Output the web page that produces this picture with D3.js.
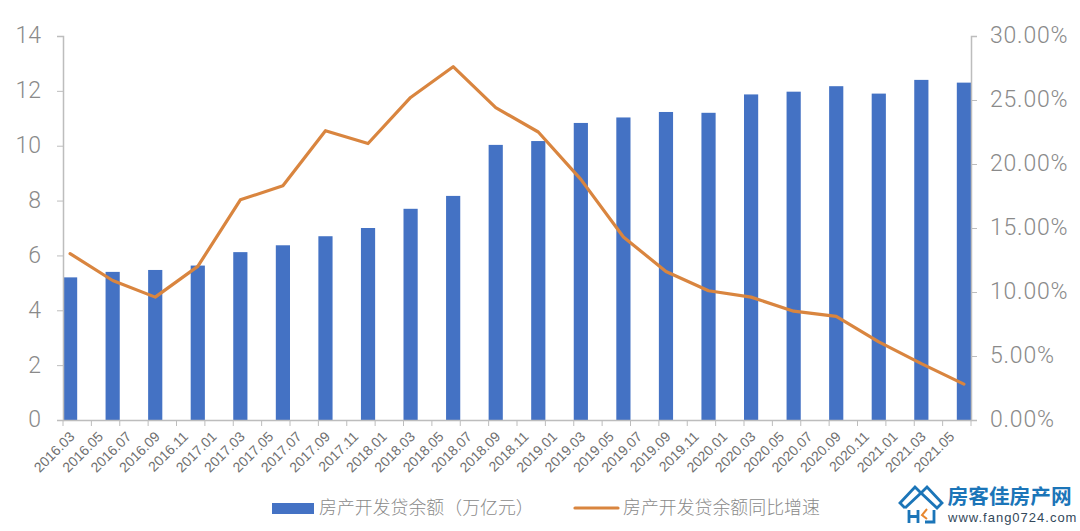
<!DOCTYPE html>
<html>
<head>
<meta charset="utf-8">
<script src="https://cdn.jsdelivr.net/npm/d3@7"></script>
<style>
  html, body { margin: 0; padding: 0; background: #fff; }
  text { font-family: "Roboto", "Noto Sans CJK SC", sans-serif; }
</style>
</head>
<body>
<div class="canvas"></div>
<script>
// every month on the category axis, only the quarter ends carry data
const months = [
  '2016.03','2016.04','2016.05','2016.06','2016.07','2016.08','2016.09','2016.10','2016.11','2016.12',
  '2017.01','2017.02','2017.03','2017.04','2017.05','2017.06','2017.07','2017.08','2017.09','2017.10','2017.11','2017.12',
  '2018.01','2018.02','2018.03','2018.04','2018.05','2018.06','2018.07','2018.08','2018.09','2018.10','2018.11','2018.12',
  '2019.01','2019.02','2019.03','2019.04','2019.05','2019.06','2019.07','2019.08','2019.09','2019.10','2019.11','2019.12',
  '2020.01','2020.02','2020.03','2020.04','2020.05','2020.06','2020.07','2020.08','2020.09','2020.10','2020.11','2020.12',
  '2021.01','2021.02','2021.03','2021.04','2021.05','2021.06'
];
const tickLabels = [
  '2016.03','2016.05','2016.07','2016.09','2016.11',
  '2017.01','2017.03','2017.05','2017.07','2017.09','2017.11',
  '2018.01','2018.03','2018.05','2018.07','2018.09','2018.11',
  '2019.01','2019.03','2019.05','2019.07','2019.09','2019.11',
  '2020.01','2020.03','2020.05','2020.07','2020.09','2020.11',
  '2021.01','2021.03','2021.05'
];
const quarters = [
  '2016.03','2016.06','2016.09','2016.12',
  '2017.03','2017.06','2017.09','2017.12',
  '2018.03','2018.06','2018.09','2018.12',
  '2019.03','2019.06','2019.09','2019.12',
  '2020.03','2020.06','2020.09','2020.12',
  '2021.03','2021.06'
];
const balance = [5.2,5.4,5.47,5.63,6.12,6.37,6.7,7.0,7.7,8.17,10.03,10.17,10.83,11.03,11.23,11.2,11.87,11.97,12.17,11.9,12.4,12.3];
const growth = [13.0,10.9,9.6,12.0,17.2,18.3,22.6,21.6,25.2,27.6,24.4,22.5,18.8,14.3,11.6,10.1,9.6,8.5,8.1,6.1,4.4,2.8];

const seriesNames = ['房产开发贷余额（万亿元）', '房产开发贷余额同比增速'];

const axisColor = '#bdbdbd';
const textColor = '#8a8a8a';
const xTextColor = '#6f6f6f';
const barColor = '#4472c4';
const lineColor = '#d9853f';
const logoBlue = '#1b75b8';

const svg = d3.select('.canvas')
  .append('svg')
    .attr('width', 1080)
    .attr('height', 531)
    .style('display', 'block');

const x = d3.scaleBand()
  .domain(months)
  .range([63, 971]);

const yLeft = d3.scaleLinear()
  .domain([0, 14])
  .range([420, 36]);

const yRight = d3.scaleLinear()
  .domain([0, 30])
  .range([420, 36]);

// bars
svg.selectAll('rect.bar')
  .data(quarters)
  .enter()
  .append('rect')
    .attr('class', 'bar')
    .attr('x', d => x(d))
    .attr('width', x.bandwidth())
    .attr('y', (d, i) => yLeft(balance[i]))
    .attr('height', (d, i) => yLeft(0) - yLeft(balance[i]))
    .attr('fill', barColor);

// axes
const leftAxis = svg.append('g')
  .attr('transform', 'translate(63,0)')
  .call(d3.axisLeft(yLeft).tickValues(d3.range(0, 15, 2)).tickSize(6).tickPadding(16));

const rightAxis = svg.append('g')
  .attr('transform', 'translate(971,0)')
  .call(d3.axisRight(yRight).tickValues(d3.range(0, 31, 5)).tickSize(6).tickPadding(13)
    .tickFormat(d => d.toFixed(2) + '%'));

const bottomAxis = svg.append('g')
  .attr('transform', 'translate(0,420)')
  .call(d3.axisBottom(x).tickValues(tickLabels).tickSize(6).tickSizeOuter(0));

// excel puts the ticks on the band edge
bottomAxis.selectAll('.tick line')
  .attr('x1', -x.bandwidth() / 2)
  .attr('x2', -x.bandwidth() / 2);

bottomAxis.selectAll('.tick text')
  .attr('transform', 'translate(2,14) rotate(-45)')
  .attr('x', 0)
  .attr('y', 0)
  .attr('dy', '0.35em')
  .attr('text-anchor', 'end')
  .attr('font-size', 14)
  .attr('fill', xTextColor)
  .style('font-family', '"Liberation Sans", sans-serif');

// closing ticks on the right edge
svg.append('line')
  .attr('x1', 971).attr('x2', 971)
  .attr('y1', 420).attr('y2', 426)
  .attr('stroke', axisColor);

[leftAxis, rightAxis].forEach(g => {
  g.selectAll('.tick text')
    .attr('font-size', 23)
    .attr('font-weight', 300)
    .attr('dy', '0.3em')
    .attr('fill', textColor);
});
rightAxis.selectAll('.tick text').attr('letter-spacing', 0.8);

[leftAxis, rightAxis, bottomAxis].forEach(g => {
  g.selectAll('.domain').attr('stroke', axisColor).attr('stroke-width', 1.5);
  g.selectAll('.tick line').attr('stroke', axisColor);
});

// line
const line = d3.line()
  .x(d => x(d) + x.bandwidth() / 2)
  .y((d, i) => yRight(growth[i]));

svg.append('path')
  .attr('d', line(quarters))
  .attr('fill', 'none')
  .attr('stroke', lineColor)
  .attr('stroke-width', 3.2)
  .attr('stroke-linejoin', 'round')
  .attr('stroke-linecap', 'round');

// legend
svg.append('rect')
  .attr('x', 272).attr('y', 503)
  .attr('width', 42).attr('height', 11)
  .attr('fill', barColor);

svg.append('line')
  .attr('x1', 575).attr('x2', 618)
  .attr('y1', 508).attr('y2', 508)
  .attr('stroke', lineColor)
  .attr('stroke-width', 3.2)
  .attr('stroke-linecap', 'round');

svg.selectAll('text.legend')
  .data(seriesNames)
  .enter()
  .append('text')
    .attr('class', 'legend')
    .attr('x', (d, i) => i === 0 ? 319 : 623)
    .attr('y', 513.5)
    .attr('font-size', 17.9)
    .attr('font-weight', 300)
    .attr('fill', textColor)
    .text(d => d);

// watermark
const logo = svg.append('g');

logo.append('path')
  .attr('d', 'M905,508 L900,503 L915,487 L921,493 L927,487 L942,503 L937,508 L921,493 L905,508')
  .attr('fill', 'none')
  .attr('stroke', logoBlue)
  .attr('stroke-width', 2.8)
  .attr('stroke-linejoin', 'miter');

logo.append('path')
  .attr('d', 'M909,510 V523 M918,510 V523 M909,516.5 H918 M934,510 V522 H925')
  .attr('fill', 'none')
  .attr('stroke', logoBlue)
  .attr('stroke-width', 2.8);

logo.append('path')
  .attr('d', 'M927,509 L922,515 L927,519')
  .attr('fill', 'none')
  .attr('stroke', '#e8872e')
  .attr('stroke-width', 2);

logo.append('text')
  .attr('x', 947.5).attr('y', 504)
  .attr('font-size', 20.7)
  .attr('font-weight', 700)
  .attr('fill', logoBlue)
  .style('font-family', '"Noto Sans CJK SC", sans-serif')
  .text('房客佳房产网');

logo.append('text')
  .attr('x', 948).attr('y', 522)
  .attr('font-size', 13)
  .attr('letter-spacing', 1)
  .attr('fill', '#33485a')
  .style('font-family', '"Liberation Sans", sans-serif')
  .text('www.fang0724.com');
</script>
</body>
</html>
